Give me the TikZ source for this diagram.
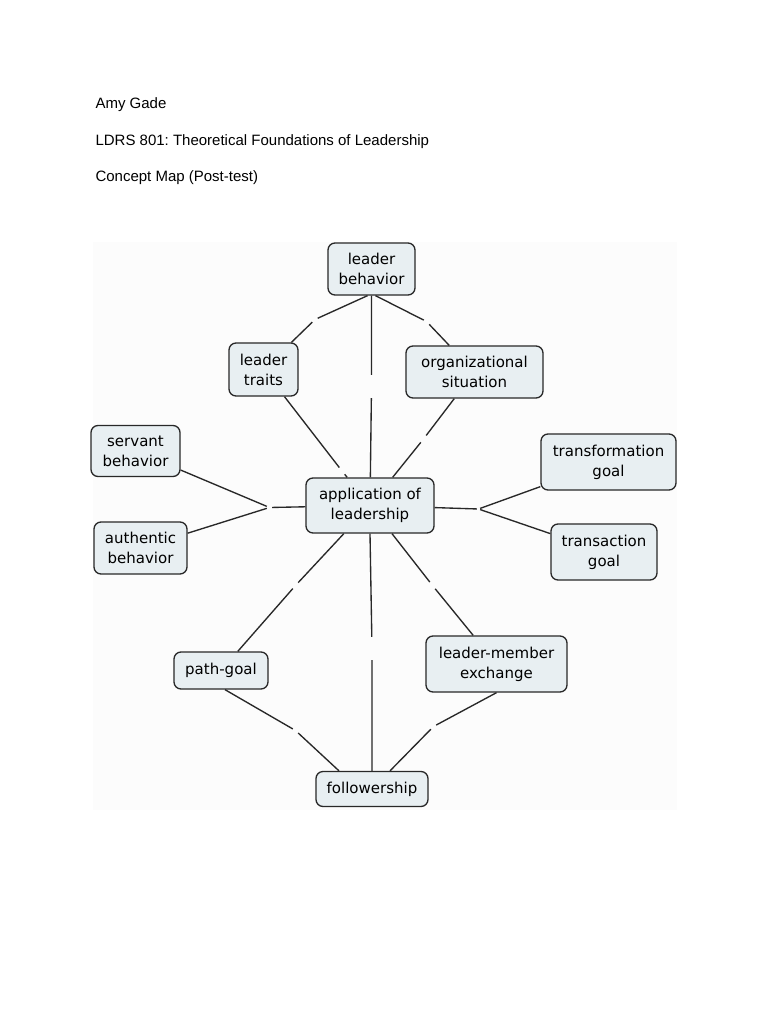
\documentclass[tikz,border=0pt]{standalone}
\usepackage{fontspec}
\setmainfont{Liberation Sans}
\newfontfamily\mapfont{DejaVu Sans}
\definecolor{boxfill}{RGB}{232,239,242}
\definecolor{ink}{RGB}{40,40,40}
\frenchspacing

\begin{document}
\begin{tikzpicture}[x=1pt, y=-1pt,
    concept/.style={draw=ink, fill=boxfill, line width=1.3pt, rounded corners=7pt, align=center,
        inner sep=0pt, minimum height=54pt, font=\mapfont\fontsize{15}{20}\selectfont},
    gap/.style={inner sep=0pt, minimum width=5pt, minimum height=23pt},
    link/.style={draw=ink, line width=1.35pt},
    heading/.style={anchor=base west, font=\fontsize{15}{18}\selectfont}]
    \useasboundingbox (0,0) rectangle (768,1024);
    % Heading
    \node[heading] (name) at (92,109) {Amy Gade};
    \node[heading] (course) at (92,145.5) {LDRS 801: Theoretical Foundations of Leadership};
    \node[heading] (task) at (92,182) {Concept Map (Post-test)};
    % Map background
    \fill[gray!2] (93,242) rectangle (677,810);
    % Concepts
    \node[concept, minimum width=87pt, minimum height=52pt] (behavior) at (371.5,269) {leader\\behavior};
    \node[concept, minimum width=69pt, minimum height=53pt] (traits) at (263.5,369.5) {leader\\traits};
    \node[concept, minimum width=137pt, minimum height=52pt] (situation) at (474.5,372) {organizational\\situation};
    \node[concept, minimum width=89pt, minimum height=51pt] (servant) at (135.5,451) {servant\\behavior};
    \node[concept, minimum width=93pt, minimum height=52pt] (authentic) at (140.5,548) {authentic\\behavior};
    \node[concept, minimum width=128pt, minimum height=55pt] (app) at (370,505.5) {application of\\leadership};
    \node[concept, minimum width=135pt, minimum height=56pt] (transform) at (608.5,462) {transformation\\goal};
    \node[concept, minimum width=106pt, minimum height=56pt] (transact) at (604,552) {transaction\\goal};
    \node[concept, minimum width=94pt, minimum height=37pt] (pathgoal) at (221,670.5) {path-goal};
    \node[concept, minimum width=141pt, minimum height=56pt] (lmx) at (496.5,664) {leader-member\\exchange};
    \node[concept, minimum width=112pt, minimum height=35pt] (follow) at (372,789) {followership};
    % Empty linking phrases (the gaps in the lines)
    \node[gap] (g1) at (315,319.5) {};
    \node[gap] (g2) at (426.5,321.5) {};
    \node[gap] (g3) at (371.5,386.5) {};
    \node[gap] (g4) at (342,471) {};
    \node[gap] (g5) at (423.5,439) {};
    \node[gap] (g6) at (269.5,507.5) {};
    \node[gap, minimum width=3pt] (g7) at (478.5,509) {};
    \node[gap] (g8) at (295.5,585.5) {};
    \node[gap] (g9) at (372,648.5) {};
    \node[gap] (g10) at (432.5,585.5) {};
    \node[gap] (g11) at (295.5,730.5) {};
    \node[gap] (g12) at (433.5,726.5) {};
    % Links
    \draw[link] ([xshift=-4pt]behavior.south) -- (g1) -- (traits);
    \draw[link] ([xshift=4pt]behavior.south) -- (g2) -- (situation);
    \draw[link] (behavior.south) -- (g3) -- (app);
    \draw[link] (traits) -- (g4) -- (app);
    \draw[link] (situation) -- (g5) -- (app);
    \draw[link] (app) -- (g6) -- (servant);
    \draw[link] (g6) -- (authentic);
    \draw[link] (app) -- (g7) -- (transform);
    \draw[link] (g7) -- (transact);
    \draw[link] (app) -- (g8) -- (pathgoal);
    \draw[link] (app.south) -- (g9) -- (follow.north);
    \draw[link] (app) -- (g10) -- (lmx);
    \draw[link] ([xshift=4pt]pathgoal.south) -- (g11) -- ([xshift=-33pt]follow.north);
    \draw[link] (lmx.south) -- (g12) -- ([xshift=18pt]follow.north);
\end{tikzpicture}
\end{document}
